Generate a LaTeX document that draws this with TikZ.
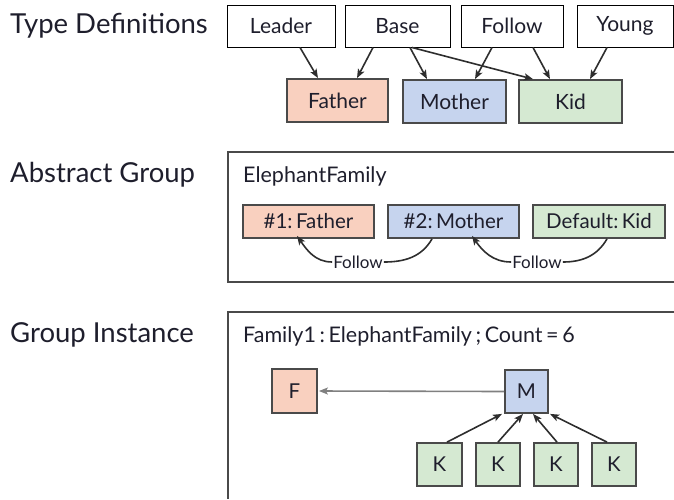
\documentclass[tikz,border=0pt]{standalone}
\usepackage{fontspec}
\setmainfont{Lato}
\usetikzlibrary{arrows.meta}
\definecolor{fatherc}{HTML}{F9D0BF}
\definecolor{motherc}{HTML}{C6D4EE}
\definecolor{kidc}{HTML}{D5E9D2}
\definecolor{edgec}{HTML}{4A4A4A}
\definecolor{linec}{HTML}{2E2E2E}
\definecolor{textc}{HTML}{1E1E2C}
\tikzset{
  every node/.style={text=textc},
  typebox/.style={draw=black, line width=1pt, fill=white, inner sep=0pt, minimum height=42pt, font=\fontsize{21}{25}\selectfont},
  colbox/.style={draw=edgec, line width=1.8pt, inner sep=0pt, font=\fontsize{21}{25}\selectfont},
  fbox/.style={colbox, fill=fatherc},
  mbox/.style={colbox, fill=motherc},
  kbox/.style={colbox, fill=kidc},
  frame/.style={draw=edgec, line width=1.4pt},
  sectitle/.style={anchor=base west, inner sep=0pt, font=\fontsize{27.5}{33}\selectfont},
  grptitle/.style={anchor=base west, inner sep=0pt, font=\fontsize{21.5}{26}\selectfont},
  arr/.style={draw=linec, line width=1.6pt, -{Stealth[length=9pt,width=7pt,inset=2pt]}},
  garr/.style={draw=gray, line width=1.6pt, -{Stealth[length=9pt,width=7pt,inset=2pt]}, shorten >=1pt},
  lbl/.style={inner sep=1pt, fill=white, font=\fontsize{17}{20}\selectfont},
  insize/.style={font=\fontsize{20.5}{25}\selectfont}
}
\begin{document}
\begin{tikzpicture}[x=1pt,y=-1pt]
\useasboundingbox (0,0) rectangle (674,499);
% section titles
\node[sectitle] (t1) at (10,33) {Type Definitions};
\node[sectitle] (t2) at (10,182) {Abstract Group};
\node[sectitle] (t3) at (10,342) {Group Instance};
% type definitions
\node[typebox, minimum width=108pt] (leader) at (281,26) {Leader};
\node[typebox, minimum width=105pt] (base) at (397.5,26) {Base};
\node[typebox, minimum width=102pt] (follow) at (512,26) {Follow};
\node[typebox, minimum width=96pt] (young) at (625,26) {Young};
\node[fbox, minimum width=101pt, minimum height=43pt] (father) at (337.5,100.5) {Father};
\node[mbox, minimum width=103pt, minimum height=43pt] (mother) at (454.5,101.5) {Mother};
\node[kbox, minimum width=103pt, minimum height=43pt] (kid) at (570.5,101.5) {Kid};
\draw[arr] ([xshift=19pt]leader.south) -- ([xshift=-19.5pt]father.north);
\draw[arr] ([xshift=-24.5pt]base.south) -- ([xshift=19.5pt]father.north);
\draw[arr] ([xshift=12.5pt]base.south) -- ([xshift=-27.5pt]mother.north);
\draw[arr] ([xshift=14.5pt]base.south) -- ([xshift=-37.5pt]kid.north);
\draw[arr] ([xshift=-20pt]follow.south) -- ([xshift=20.5pt]mother.north);
\draw[arr] ([xshift=21pt]follow.south) -- ([xshift=-20.5pt]kid.north);
\draw[arr] ([xshift=-18pt]young.south) -- ([xshift=19.5pt]kid.north);
% abstract group
\draw[frame] (674,152) -- (228,152) -- (228,282) -- (674,282);
\node[grptitle] (eftitle) at (243,182) {ElephantFamily};
\node[fbox, insize, minimum width=131pt, minimum height=33pt] (f1) at (308.5,221.5) {\#1:\,Father};
\node[mbox, insize, minimum width=131pt, minimum height=33pt] (m2) at (453.5,221.5) {\#2:\,Mother};
\node[kbox, insize, minimum width=132pt, minimum height=33pt] (dk) at (599,221.5) {Default:\,Kid};
\node[lbl] (fl1) at (358,262) {Follow};
\node[lbl] (fl2) at (537,262) {Follow};
\draw[draw=linec, line width=1.6pt] ([xshift=-21.5pt]m2.south) to[out=-120,in=0] (fl1.east);
\draw[arr] (fl1.west) to[out=180,in=-55] ([xshift=-11.5pt,yshift=3pt]f1.south);
\draw[draw=linec, line width=1.6pt] ([xshift=8pt]dk.south) to[out=-120,in=0] (fl2.east);
\draw[arr] (fl2.west) to[out=180,in=-55] ([xshift=18.5pt,yshift=3pt]m2.south);
% group instance
\draw[frame] (674,312) -- (228,312) -- (228,499);
\node[grptitle] (fititle) at (243,342) {Family1\,:\,ElephantFamily\,;\,Count\,=\,6};
\node[fbox, insize, minimum width=45pt, minimum height=44pt] (F) at (294.5,391) {F};
\node[mbox, insize, minimum width=43pt, minimum height=43pt] (M) at (526.5,391.5) {M};
\node[kbox, insize, minimum width=45pt, minimum height=43pt] (k1) at (439.5,464.5) {K};
\node[kbox, insize, minimum width=44pt, minimum height=43pt] (k2) at (498,464.5) {K};
\node[kbox, insize, minimum width=44pt, minimum height=43pt] (k3) at (556,464.5) {K};
\node[kbox, insize, minimum width=44pt, minimum height=43pt] (k4) at (614,464.5) {K};
\draw[garr] (M.west) -- (F.east);
\draw[arr] ([xshift=7.5pt]k1.north) -- ([xshift=-24.5pt]M.south);
\draw[arr] ([xshift=0pt]k2.north) -- ([xshift=-3.5pt]M.south);
\draw[arr] ([xshift=1pt]k3.north) -- ([xshift=6.5pt]M.south);
\draw[arr] ([xshift=-7pt]k4.north) -- ([xshift=23.5pt]M.south);
\end{tikzpicture}
\end{document}
